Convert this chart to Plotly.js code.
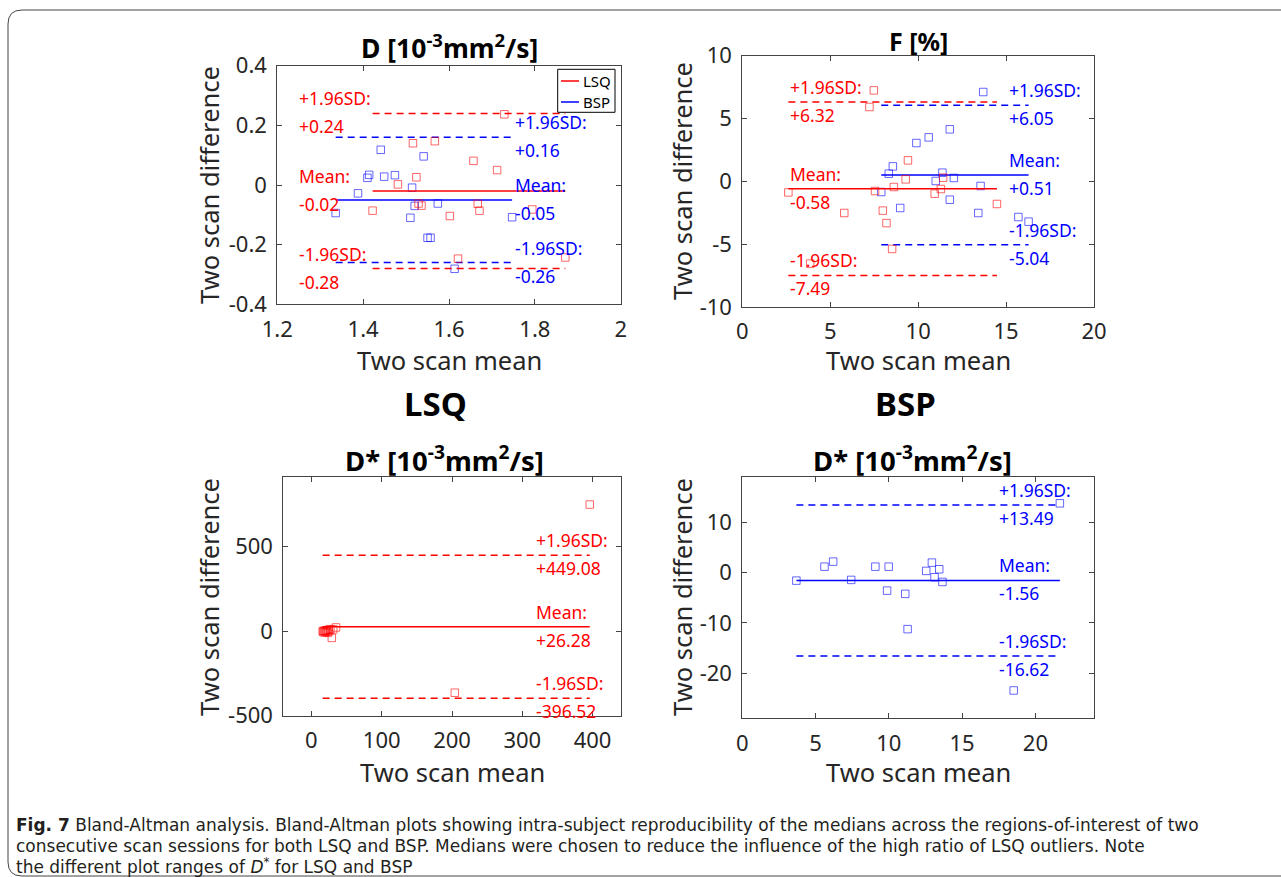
<!DOCTYPE html>
<html><head><meta charset="utf-8">
<script src="https://cdn.plot.ly/plotly-3.0.1.min.js"></script>
<style>html,body{margin:0;padding:0;background:#fff;}#chart{width:1281px;height:877px;}</style>
</head><body><div id="chart"></div>
<script>
// ---------- DATA ----------
const D_LSQ_mean = [1.729,1.516,1.567,1.657,1.712,1.524,1.481,1.536,1.422,1.602,1.667,1.671,1.794,1.621,1.871,1.529];
const D_LSQ_diff = [0.237,0.14,0.147,0.081,0.05,0.026,0.002,-0.069,-0.086,-0.104,-0.063,-0.086,-0.082,-0.247,-0.243,-0.062];
const D_BSP_mean = [1.441,1.541,1.414,1.41,1.449,1.474,1.514,1.388,1.336,1.52,1.574,1.51,1.55,1.557,1.747,1.613];
const D_BSP_diff = [0.118,0.096,0.034,0.024,0.028,0.033,-0.009,-0.028,-0.094,-0.07,-0.062,-0.11,-0.177,-0.177,-0.108,-0.281];
const D_LSQ_stats = [-0.02, 0.24, -0.28];   // mean, +1.96SD, -1.96SD
const D_BSP_stats = [-0.05, 0.16, -0.26];

const F_LSQ_mean = [7.48,7.23,9.42,9.29,11.42,11.29,10.94,8.62,7.55,2.62,5.8,7.99,8.2,14.48,8.52,3.86];
const F_LSQ_diff = [7.24,5.92,1.67,0.16,0.29,-0.61,-0.98,-0.45,-0.77,-0.88,-2.52,-2.33,-3.32,-1.8,-5.38,-6.55];
const F_BSP_mean = [13.7,11.8,10.6,9.9,8.56,8.33,11.38,12.03,11.0,13.55,7.9,11.8,8.98,13.42,15.7,16.28];
const F_BSP_diff = [7.11,4.14,3.5,3.05,1.19,0.61,0.69,0.27,0.03,-0.37,-0.85,-1.46,-2.12,-2.52,-2.84,-3.21];
const F_LSQ_stats = [-0.58, 6.32, -7.49];
const F_BSP_stats = [0.51, 6.05, -5.04];

const DS_LSQ_mean = [396,204,35,29,16,17,18,19,20,21,22,23,24,25,27,31];
const DS_LSQ_diff = [749,-364,22,-40,0,-5,3,-8,2,-3,5,-10,8,-2,12,10];
const DS_LSQ_stats = [26.28, 449.08, -396.52];

const DS_BSP_mean = [21.67,3.69,5.61,6.2,7.43,9.08,9.99,9.88,11.12,11.28,12.55,12.94,13.44,13.12,13.66,18.52];
const DS_BSP_diff = [13.8,-1.59,1.19,2.19,-1.45,1.19,1.19,-3.58,-4.23,-11.25,0.34,1.99,0.67,-0.92,-1.85,-23.46];
const DS_BSP_stats = [-1.56, 13.49, -16.62];

const statHeads = ["Mean:", "+1.96SD:", "-1.96SD:"];

const tl_xt = [1.2,1.4,1.6,1.8,2], tl_xl = ["1.2","1.4","1.6","1.8","2"];
const tl_yt = [-0.4,-0.2,0,0.2,0.4], tl_yl = ["-0.4","-0.2","0","0.2","0.4"];
const tr_xt = [0,5,10,15,20], tr_xl = ["0","5","10","15","20"];
const tr_yt = [-10,-5,0,5,10], tr_yl = ["-10","-5","0","5","10"];
const bl_xt = [0,100,200,300,400], bl_xl = ["0","100","200","300","400"];
const bl_yt = [-500,0,500], bl_yl = ["-500","0","500"];
const br_xt = [0,5,10,15,20], br_xl = ["0","5","10","15","20"];
const br_yt = [-20,-10,0,10], br_yl = ["-20","-10","0","10"];

// ---------- LAYOUT HELPERS ----------
const W = 1281, H = 877;
const px = v => v / W, py = v => 1 - v / H;
const RED = '#ff0000', BLUE = '#0000ff', AX = '#262626';
const FONT = 'Noto Sans, Open Sans, sans-serif';

function axis(dom, range, tv, tt) {
  return {domain: dom, range: range, tickvals: tv, ticktext: tt, showgrid: false, zeroline: false,
    showline: true, mirror: 'ticks', linecolor: '#444', linewidth: 1, ticks: 'inside', ticklen: 5,
    tickcolor: '#444', tickfont: {family: FONT, size: 22, color: AX}, ticklabelstandoff: 5, fixedrange: true};
}

const traces = [];
const annotations = [];
function series(xs, ys, stats, color, xa, ya, labelX) {
  traces.push({type: 'scatter', mode: 'markers', x: xs, y: ys, xaxis: xa, yaxis: ya, showlegend: false,
    marker: {symbol: 'square-open', size: 7.5, color: color, opacity: 0.6, line: {width: 1, color: color}}, hoverinfo: 'skip'});
  const x0 = Math.min(...xs), x1 = Math.max(...xs);
  stats.forEach((v, i) => {
    traces.push({type: 'scatter', mode: 'lines', x: [x0, x1], y: [v, v], xaxis: xa, yaxis: ya, showlegend: false,
      line: {color: color, width: 1.5, dash: i === 0 ? 'solid' : '7px,5px'}, hoverinfo: 'skip'});
    const val = (v >= 0 ? '+' : '-') + Math.abs(v).toFixed(2);
    annotations.push({xref: xa, yref: ya, x: labelX, y: v, xanchor: 'left', yanchor: 'middle', yshift: 15,
      text: statHeads[i], showarrow: false, font: {family: FONT, size: 17.5, color: color}});
    annotations.push({xref: xa, yref: ya, x: labelX, y: v, xanchor: 'left', yanchor: 'middle', yshift: -13,
      text: val, showarrow: false, font: {family: FONT, size: 17.5, color: color}});
  });
}

series(D_BSP_mean, D_BSP_diff, D_BSP_stats, BLUE, 'x', 'y', 1.749);
series(D_LSQ_mean, D_LSQ_diff, D_LSQ_stats, RED, 'x', 'y', 1.247);
series(F_BSP_mean, F_BSP_diff, F_BSP_stats, BLUE, 'x2', 'y2', 15.05);
series(F_LSQ_mean, F_LSQ_diff, F_LSQ_stats, RED, 'x2', 'y2', 2.6);
series(DS_LSQ_mean, DS_LSQ_diff, DS_LSQ_stats, RED, 'x3', 'y3', 316);
series(DS_BSP_mean, DS_BSP_diff, DS_BSP_stats, BLUE, 'x4', 'y4', 17.35);

function txt(x, y, text, size, opts) {
  annotations.push(Object.assign({xref: 'paper', yref: 'paper', x: px(x), y: py(y), text: text, showarrow: false,
    xanchor: 'center', yanchor: 'middle', font: {family: FONT, size: size, color: '#000'}}, opts || {}));
}
const unit = '[10<sup>-3</sup>mm<sup>2</sup>/s]';
txt(449, 46, '<b>D ' + unit + '</b>', 26.5);
txt(918, 41, '<b>F [%]</b>', 25);
txt(435, 403, '<b>LSQ</b>', 33);
txt(905, 403, '<b>BSP</b>', 33);
txt(444, 459, '<b>D* ' + unit + '</b>', 27.5);
txt(912, 459, '<b>D* ' + unit + '</b>', 27.5);
['TL','TR','BL','BR'].forEach((k, i) => {
  const xt = [449, 918, 452, 918][i], yt = [360, 360, 772, 772][i];
  txt(xt, yt, 'Two scan mean', 25.5, {font: {family: FONT, size: 25.5, color: AX}});
  const xy = [209, 682, 209, 682][i], yy = [185, 181, 597, 597][i];
  txt(xy, yy, 'Two scan difference', 25.5, {textangle: -90, font: {family: FONT, size: 25.5, color: AX}});
});
// legend (top-left panel)
txt(581, 81, 'LSQ', 15, {xanchor: 'left', font: {family: FONT, size: 15, color: '#000'}});
txt(581, 102, 'BSP', 15, {xanchor: 'left', font: {family: FONT, size: 15, color: '#000'}});

// caption
const CF = 'DejaVu Sans, Liberation Sans, sans-serif';
const capOpt = {xanchor: 'left', font: {family: CF, size: 17, color: '#231f20'}};
txt(14, 825, '<b>Fig. 7</b> Bland-Altman analysis. Bland-Altman plots showing intra-subject reproducibility of the medians across the regions-of-interest of two', 17, capOpt);
txt(14, 845.5, 'consecutive scan sessions for both LSQ and BSP. Medians were chosen to reduce the influence of the high ratio of LSQ outliers. Note', 17, capOpt);
txt(14, 866, 'the different plot ranges of <i>D</i><sup>*</sup> for LSQ and BSP', 17, capOpt);

const r = 14;
const P = (x, y) => px(x) + ',' + py(y);
const border = 'M' + P(8 + r, 10) + ' L' + P(1300, 10) + ' L' + P(1300, 876) + ' L' + P(8 + r, 876) +
  ' Q' + P(8, 876) + ' ' + P(8, 876 - r) + ' L' + P(8, 10 + r) + ' Q' + P(8, 10) + ' ' + P(8 + r, 10) + ' Z';

const shapes = [
  {type: 'path', xref: 'paper', yref: 'paper', path: border, line: {color: '#444', width: 1}},
  {type: 'rect', xref: 'paper', yref: 'paper', x0: px(557.7), x1: px(615), y0: py(69.3), y1: py(112.3),
   fillcolor: '#fff', line: {color: '#000', width: 1}},
  {type: 'line', xref: 'paper', yref: 'paper', x0: px(561), x1: px(579), y0: py(81), y1: py(81), line: {color: RED, width: 1.5}},
  {type: 'line', xref: 'paper', yref: 'paper', x0: px(561), x1: px(579), y0: py(102), y1: py(102), line: {color: BLUE, width: 1.5}}
];

const layout = {
  width: W, height: H, autosize: false, margin: {l: 0, r: 0, t: 0, b: 0},
  paper_bgcolor: '#fff', plot_bgcolor: '#fff', showlegend: false,
  xaxis: axis([px(277.3), px(620.7)], [1.2, 2], tl_xt, tl_xl),
  yaxis: axis([py(304.3), py(65.7)], [-0.4, 0.4], tl_yt, tl_yl),
  xaxis2: axis([px(742.3), px(1094)], [0, 20], tr_xt, tr_xl),
  yaxis2: axis([py(307), py(55.7)], [-10, 10], tr_yt, tr_yl),
  xaxis3: axis([px(283.3), px(620.7)], [-40, 440], bl_xt, bl_xl),
  yaxis3: axis([py(715.7), py(477.3)], [-500, 910], bl_yt, bl_yl),
  xaxis4: axis([px(742.3), px(1094)], [0, 24], br_xt, br_xl),
  yaxis4: axis([py(718.3), py(476.7)], [-29, 19.1], br_yt, br_yl),
  annotations: annotations, shapes: shapes
};
['xaxis','xaxis2','xaxis3','xaxis4'].forEach((k, i) => layout[k].anchor = 'y' + (i ? i + 1 : ''));
['yaxis','yaxis2','yaxis3','yaxis4'].forEach((k, i) => layout[k].anchor = 'x' + (i ? i + 1 : ''));
Plotly.newPlot('chart', traces, layout, {staticPlot: true, displayModeBar: false});
</script></body></html>
